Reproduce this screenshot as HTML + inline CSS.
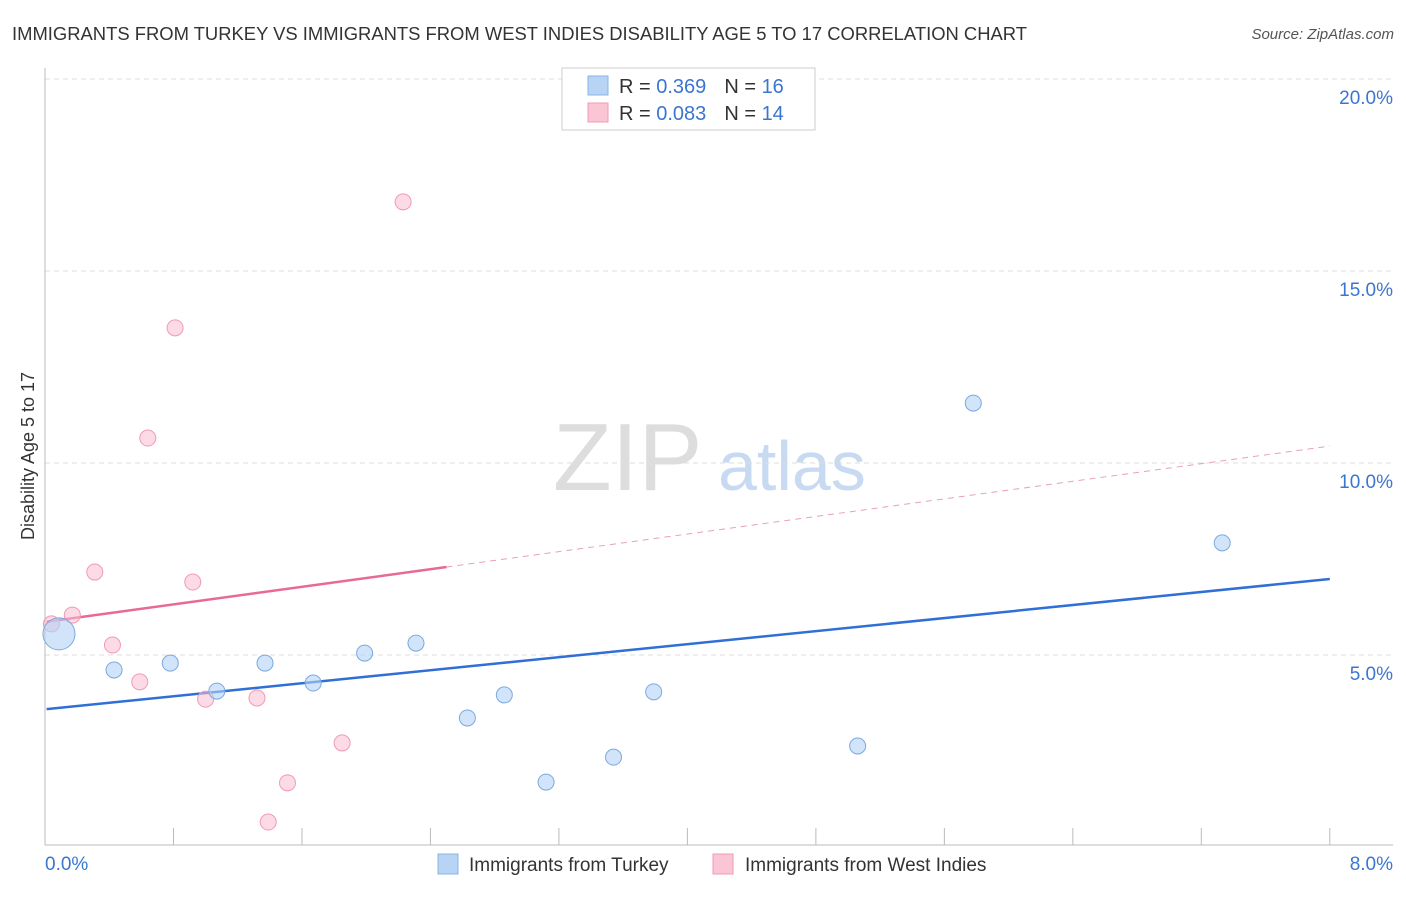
<!DOCTYPE html>
<html><head><meta charset="utf-8"><style>
body{margin:0;background:#fff;font-family:"Liberation Sans",sans-serif;}
svg text{font-family:"Liberation Sans",sans-serif;}
</style></head><body>
<svg id="c" width="1406" height="892" xmlns="http://www.w3.org/2000/svg">
<text x="12" y="40" font-size="18.4" fill="#333" textLength="1015" lengthAdjust="spacingAndGlyphs">IMMIGRANTS FROM TURKEY VS IMMIGRANTS FROM WEST INDIES DISABILITY AGE 5 TO 17 CORRELATION CHART</text>
<text x="1394" y="39" font-size="15" fill="#555" font-style="italic" text-anchor="end">Source: ZipAtlas.com</text>
<text x="34" y="456" font-size="18" fill="#333" transform="rotate(-90 34 456)" text-anchor="middle">Disability Age 5 to 17</text>
<text x="553" y="490" font-size="96" fill="#ddd" font-family="Liberation Serif">ZIP</text>
<text x="718" y="490" font-size="70" fill="#c8daf2">atlas</text>
<g id="grid"></g><g id="lines"></g><g id="pts"></g>
<g>
<rect x="562" y="68" width="253" height="62" fill="#fff" stroke="#ccc"/>
<rect x="588" y="76" width="20" height="19" fill="#b8d4f5" stroke="#8ab4e8"/>
<rect x="588" y="103" width="20" height="19" fill="#fac5d5" stroke="#f29ab5"/>
<text x="619" y="93" font-size="20" fill="#333">R = <tspan fill="#3a76d0">0.369</tspan><tspan dx="18">N = </tspan><tspan fill="#3a76d0">16</tspan></text>
<text x="619" y="120" font-size="20" fill="#333">R = <tspan fill="#3a76d0">0.083</tspan><tspan dx="18">N = </tspan><tspan fill="#3a76d0">14</tspan></text>
</g>
<g>
<rect x="438" y="854" width="20" height="20" fill="#b8d4f5" stroke="#8ab4e8"/>
<text x="469" y="871" font-size="19" fill="#333">Immigrants from Turkey</text>
<rect x="713" y="854" width="20" height="20" fill="#fac5d5" stroke="#f29ab5"/>
<text x="745" y="871" font-size="19" fill="#333">Immigrants from West Indies</text>
</g>
</svg>
<script>
const yTicks=[5,10,15,20];
const xTickLabels=["0.0%","8.0%"];
const turkeyX=[0.087,0.43,0.78,1.07,1.37,1.67,1.99,2.31,2.63,2.86,3.12,3.54,3.79,5.06,5.78,7.33];
const turkeyY=[5.55,4.61,4.79,4.06,4.79,4.27,5.05,5.31,3.36,3.96,1.69,2.34,4.04,2.63,11.56,7.92];
const indiesX=[0.04,0.17,0.31,0.42,0.59,0.64,0.81,0.92,1.00,1.32,1.39,1.51,1.85,2.23];
const indiesY=[5.81,6.04,7.16,5.26,4.30,10.65,13.52,6.90,3.85,3.88,0.65,1.67,2.71,16.80];
const turkeyTrend=[3.59,6.98];
const indiesTrend=[5.86,10.44];
const NS="http://www.w3.org/2000/svg";
const X=v=>45+v*160.6, Y=v=>847-v*38.4;
function mk(tag,a,p){const e=document.createElementNS(NS,tag);for(const k in a)e.setAttribute(k,a[k]);document.getElementById(p).appendChild(e);return e;}
const g='grid';
yTicks.forEach(t=>{
 const l=mk('line',{x1:45,x2:1393,y1:Y(t),y2:Y(t),stroke:'#ddd','stroke-dasharray':'5,4'},g);
 
 
 const tx=mk('text',{x:1393,y:Y(t)+25,'font-size':19,fill:'#3a76d0','text-anchor':'end'},g);tx.textContent=t.toFixed(1)+'%';
 
 
});
const topLine=mk('line',{x1:45,x2:1393,y1:79,y2:79,stroke:'#ddd','stroke-dasharray':'5,4'},g);


const ax=mk('line',{x1:45,x2:1393,y1:845,y2:845,stroke:'#bbb'},g);


const ay=mk('line',{x1:45,x2:45,y1:68,y2:845,stroke:'#bbb'},g);


for(let i=0;i<=10;i++){const x=X(i*0.8);mk('line',{x1:x,x2:x,y1:828,y2:845,stroke:'#bbb'},g);}
[[0,'start',45],[8,'end',1393]].forEach((d,i)=>{const t=mk('text',{x:d[2],y:870,'font-size':19,fill:'#3a76d0','text-anchor':d[1]},g);t.textContent=xTickLabels[i];
 
 });
const bl=mk('line',{x1:X(0.01),y1:Y(turkeyTrend[0]),x2:X(8),y2:Y(turkeyTrend[1]),stroke:'#2f6fd6','stroke-width':2.5},'lines');


const pi=x=>indiesTrend[0]+(indiesTrend[1]-indiesTrend[0])*x/8;
const pl=mk('line',{x1:X(0.01),y1:Y(pi(0.01)),x2:X(2.5),y2:Y(pi(2.5)),stroke:'#e86a93','stroke-width':2.5},'lines');


const pd=mk('line',{x1:X(2.5),y1:Y(pi(2.5)),x2:X(8),y2:Y(pi(8)),stroke:'#e8a0b8','stroke-width':1,'stroke-dasharray':'6,5'},'lines');


indiesX.forEach((x,i)=>{const c=mk('circle',{cx:X(x),cy:Y(indiesY[i]),r:8,fill:'rgba(250,190,210,0.55)',stroke:'#f09ab5','stroke-width':1},'pts');
 
 });
turkeyX.forEach((x,i)=>{const c=mk('circle',{cx:X(x),cy:Y(turkeyY[i]),r:i==0?16:8,fill:'rgba(180,210,245,0.6)',stroke:'#7aa8e0','stroke-width':1},'pts');
 
 });
</script>
</body></html>
